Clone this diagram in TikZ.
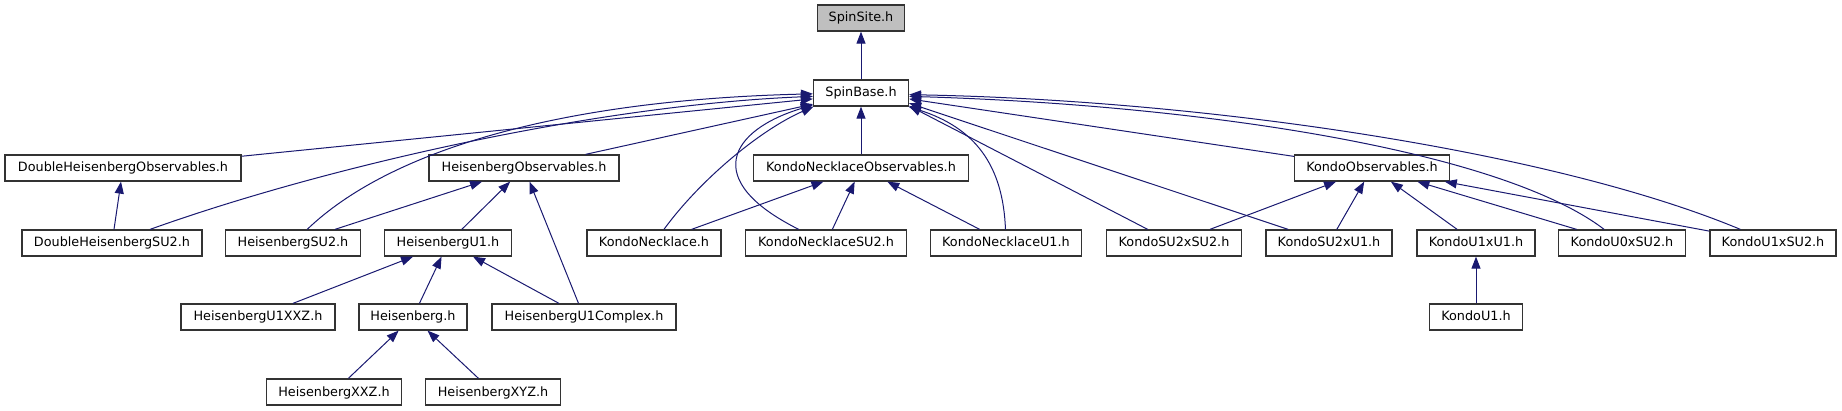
\documentclass[tikz,border=0pt]{standalone}
\usepackage{fontspec}
\setmainfont{DejaVu Sans}
\usetikzlibrary{arrows.meta}
\definecolor{edgeblue}{HTML}{191970}
\definecolor{boxgray}{HTML}{BFBFBF}
\definecolor{boxline}{HTML}{333333}
\tikzset{
  file/.style={draw=boxline, line width=1.25pt, fill=white, inner sep=0pt,
    minimum height=26pt, text height=9.3pt, text depth=1.3pt,
    font=\fontsize{12.8}{15}\selectfont, text=black},
  rootfile/.style={file, fill=boxgray},
  edge/.style={draw=edgeblue, line width=1pt, -{Triangle[length=12pt,width=9pt]}},
}
\begin{document}
\begin{tikzpicture}[x=1pt,y=-1pt]
\useasboundingbox (0,0) rectangle (1842,411);
% row 0
\node[rootfile, minimum width=87pt] (ss) at (861,18) {SpinSite.h};
% row 1
\node[file, minimum width=95pt] (sb) at (861,93) {SpinBase.h};
% row 2
\node[file, minimum width=236pt] (dho) at (123,168) {DoubleHeisenbergObservables.h};
\node[file, minimum width=190pt] (ho) at (524,168) {HeisenbergObservables.h};
\node[file, minimum width=215pt] (kno) at (861,168) {KondoNecklaceObservables.h};
\node[file, minimum width=155pt] (ko) at (1372,168) {KondoObservables.h};
% row 3
\node[file, minimum width=180pt] (dhsu2) at (112,243) {DoubleHeisenbergSU2.h};
\node[file, minimum width=135pt] (hsu2) at (293,243) {HeisenbergSU2.h};
\node[file, minimum width=127pt] (hu1) at (448,243) {HeisenbergU1.h};
\node[file, minimum width=134pt] (kn) at (654,243) {KondoNecklace.h};
\node[file, minimum width=161pt] (knsu2) at (826,243) {KondoNecklaceSU2.h};
\node[file, minimum width=151pt] (knu1) at (1006,243) {KondoNecklaceU1.h};
\node[file, minimum width=135pt] (ksu2xsu2) at (1174,243) {KondoSU2xSU2.h};
\node[file, minimum width=126pt] (ksu2xu1) at (1329,243) {KondoSU2xU1.h};
\node[file, minimum width=118pt] (ku1xu1) at (1476,243) {KondoU1xU1.h};
\node[file, minimum width=127pt] (ku0xsu2) at (1622,243) {KondoU0xSU2.h};
\node[file, minimum width=126pt] (ku1xsu2) at (1773,243) {KondoU1xSU2.h};
% row 4
\node[file, minimum width=154pt] (hu1xxz) at (258,317) {HeisenbergU1XXZ.h};
\node[file, minimum width=108pt] (h) at (413,317) {Heisenberg.h};
\node[file, minimum width=184pt] (hu1c) at (584,317) {HeisenbergU1Complex.h};
\node[file, minimum width=93pt] (ku1) at (1476,317) {KondoU1.h};
% row 5
\node[file, minimum width=135pt] (hxxz) at (334,392) {HeisenbergXXZ.h};
\node[file, minimum width=135pt] (hxyz) at (493,392) {HeisenbergXYZ.h};

% edges
\draw[edge] (sb) -- (ss);
% into SpinBase, left side
\draw[edge] (dho) -- (sb.187);
\draw[edge] (dhsu2) .. controls (330,165) and (600,105) .. (sb.184);
\draw[edge] (hsu2) .. controls (390,150) and (560,100) .. (sb.181);
\draw[edge] (ho) -- (sb.193);
\draw[edge] (kn) .. controls (700,180) and (760,130) .. (sb.196);
\draw[edge] (knsu2) .. controls (700,180) and (730,130) .. (sb.194);
\draw[edge] (kno) -- (sb);
% into SpinBase, right side
\draw[edge] (knu1) .. controls (1003,165) and (975,128) .. (sb.-16);
\draw[edge] (ksu2xsu2) -- (sb.-15);
\draw[edge] (ksu2xu1) -- (sb.-12);
\draw[edge] (ko) -- (sb.-7);
\draw[edge] (ku0xsu2) .. controls (1500,150) and (1200,105) .. (sb.-4);
\draw[edge] (ku1xsu2) .. controls (1550,150) and (1200,100) .. (sb.-2);
% DoubleHeisenbergObservables
\draw[edge] (dhsu2) -- (dho);
% HeisenbergObservables
\draw[edge] (hsu2) -- (ho);
\draw[edge] (hu1) -- (ho);
\draw[edge] (hu1c) -- (ho);
% KondoNecklaceObservables
\draw[edge] (kn) -- (kno);
\draw[edge] (knsu2) -- (kno);
\draw[edge] (knu1) -- (kno);
% KondoObservables
\draw[edge] (ksu2xsu2) -- (ko);
\draw[edge] (ksu2xu1) -- (ko);
\draw[edge] (ku1xu1) -- (ko);
\draw[edge] (ku0xsu2) -- (ko);
\draw[edge] (ku1xsu2) -- (ko);
% HeisenbergU1
\draw[edge] (hu1xxz) -- (hu1);
\draw[edge] (h) -- (hu1);
\draw[edge] (hu1c) -- (hu1);
% Heisenberg
\draw[edge] (hxxz) -- (h);
\draw[edge] (hxyz) -- (h);
% KondoU1xU1
\draw[edge] (ku1) -- (ku1xu1);
\end{tikzpicture}
\end{document}
